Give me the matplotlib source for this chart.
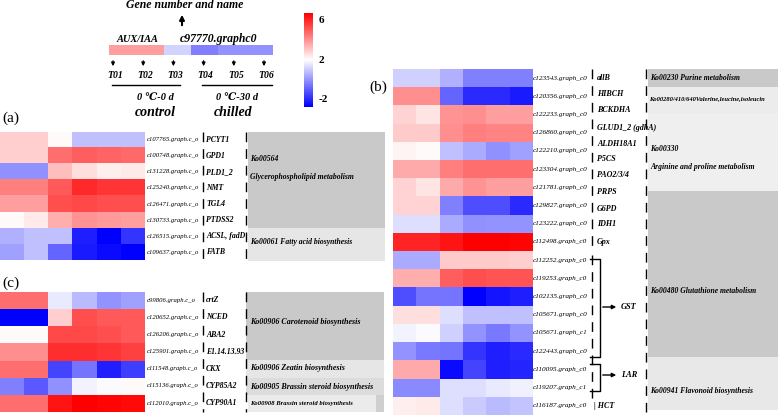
import matplotlib
matplotlib.use("Agg")
import matplotlib.pyplot as plt
import numpy as np
from matplotlib.colors import LinearSegmentedColormap, Normalize

W, H = 778, 417
FONT = ["Liberation Serif", "DejaVu Serif"]

# ---------------- data ----------------
timepoints = ["T01", "T02", "T03", "T04", "T05", "T06"]
legend_vals = [3.8, 3.8, 1.2, -0.4, 0.0, 0.0]

a_ids = ["c107765.graph.c_o", "c100748.graph.c_o", "c131228.graph.c_o", "c125240.graph.c_o",
         "c126471.graph.c_o", "c130733.graph.c_o", "c126515.graph.c_o", "c109637.graph.c_o"]
a_genes = ["PCYT1", "GPD1", "PLD1_2", "NMT", "TGL4", "PTDSS2", "ACSL, fadD", "FATB"]
a_vals = [
    [2.9, 2.9, 2.1, 0.8, 0.8, 0.8],
    [2.9, 2.9, 4.7, 5.0, 4.9, 4.8],
    [-0.1, -0.1, 3.2, 2.6, 2.3, 2.4],
    [4.4, 4.4, 5.1, 6.0, 5.8, 5.8],
    [3.8, 3.8, 5.3, 5.4, 5.3, 5.3],
    [2.1, 2.4, 3.5, 4.0, 3.9, 3.8],
    [0.5, 0.8, 0.8, -2.2, -2.8, -1.8],
    [0.2, 0.8, -0.9, -2.3, -2.6, -2.8],
]
a_paths = ["Ko00564\n\nGlycerophospholipid metabolism", "Ko00061 Fatty acid biosynthesis"]

c_ids = ["c99806.graph.c_o", "c120652.graph.c_o", "c126206.graph.c_o", "c125901.graph.c_o",
         "c111548.graph.c_o", "c115136.graph.c_o", "c112010.graph.c_o"]
c_genes = ["crtZ", "NCED", "ABA2", "E1.14.13.93", "CKX", "CYP85A2", "CYP90A1"]
c_vals = [
    [4.7, 4.7, 1.6, 0.7, 0.0, 0.2],
    [-2.8, -2.8, 2.9, 5.3, 5.1, 5.1],
    [2.1, 2.1, 5.4, 5.4, 5.3, 5.1],
    [4.1, 4.1, 5.9, 5.9, 5.8, 5.6],
    [4.7, 4.7, -1.5, -0.6, -2.2, -1.6],
    [-0.4, -1.1, -0.1, 1.8, 1.9, 2.1],
    [4.7, 4.7, 6.4, 6.8, 6.7, 6.6],
]
c_paths = ["Ko00906 Carotenoid biosynthesis", "Ko00906 Zeatin biosynthesis",
           "Ko00905 Brassin steroid biosynthesis", "Ko00908 Brassin steroid biosynthesis"]

b_ids = ["c123543.graph_c0", "c120356.graph_c0", "c122233.graph_c0", "c126860.graph_c0",
         "c122210.graph_c0", "c123304.graph_c0", "c121781.graph_c0", "c129827.graph_c0",
         "c123222.graph_c0", "c112498.graph_c0", "c112252.graph_c0", "c119253.graph_c0",
         "c102135.graph_c0", "c105671.graph_c0", "c105671.graph_c1", "c122443.graph_c0",
         "c110095.graph_c0", "c119207.graph_c1", "c116187.graph_c0"]
b_genes = ["allB", "HIBCH", "BCKDHA", "GLUD1_2 (gdhA)", "ALDH18A1", "P5CS", "PAO2/3/4",
           "PRPS", "G6PD", "IDH1", "Gpx"]
b_vals = [
    [1.1, 1.1, 0.5, -0.4, -0.4, -0.4],
    [4.1, 4.1, -0.9, -2.0, -2.0, -2.3],
    [2.8, 2.5, 4.0, 4.1, 3.8, 3.8],
    [3.0, 3.0, 4.1, 4.4, 4.3, 4.3],
    [2.2, 2.1, 0.8, 0.4, -0.1, 0.2],
    [3.6, 3.6, 4.4, 4.7, 4.7, 4.7],
    [2.8, 2.5, 3.6, 4.0, 3.8, 3.8],
    [2.8, 2.8, -0.4, -1.3, -1.3, -2.0],
    [1.4, 1.4, 0.4, -0.1, 0.0, 0.0],
    [6.1, 6.1, 6.4, 6.8, 6.8, 6.7],
    [0.4, 0.4, 3.0, 3.0, 3.0, 2.9],
    [3.5, 3.5, 5.0, 5.3, 5.2, 5.2],
    [-1.3, -0.6, -0.6, -2.8, -2.4, -2.2],
    [2.6, 2.6, 1.4, 0.8, 0.8, 0.8],
    [1.8, 1.9, 1.1, 0.0, -0.5, 0.0],
    [0.0, -0.5, -0.6, -1.8, -2.2, -2.0],
    [3.6, 3.6, -2.6, -1.5, -2.2, -2.1],
    [-0.2, -0.2, 1.4, 1.4, 1.6, 1.7],
    [2.3, 2.4, 1.4, 1.0, 0.7, 0.9],
]
b_paths = ["Ko00230 Purine metabolism", "Ko00280/410/640Valerine,leucine,isoleucin",
           "Ko00330\n\nArginine and proline metabolism", "Ko00480 Glutathione metabolism",
           "Ko00941 Flavonoid biosynthesis"]

# ---------------- drawing ----------------
cmap = LinearSegmentedColormap.from_list("bwr2", ["#0000ff", "#ffffff", "#ff0000"])
norm = Normalize(vmin=-2.8, vmax=6.8)

fig = plt.figure(figsize=(W / 100, H / 100), dpi=100)
base = fig.add_axes([0, 0, 1, 1])
base.set_xlim(0, W)
base.set_ylim(H, 0)
base.axis("off")


def px_axes(x0, y0, x1, y1):
    ax = fig.add_axes([x0 / W, 1 - y1 / H, (x1 - x0) / W, (y1 - y0) / H])
    ax.axis("off")
    return ax


def heat(vals, x0, y0, x1, y1):
    ax = px_axes(x0, y0, x1, y1)
    ax.imshow(np.array(vals), cmap=cmap, norm=norm, aspect="auto", interpolation="nearest")
    return [y0 + (i + 0.5) * (y1 - y0) / len(vals) for i in range(len(vals))]


def txt(x, y, s, size=6, bold=True, italic=True, **kw):
    base.text(x, y, s, fontsize=size, family=FONT, fontweight="bold" if bold else "normal",
              fontstyle="italic" if italic else "normal", va="center", **kw)


def dashed(x, y0, y1):
    base.plot([x, x], [y0, y1], color="black", lw=1.0, ls=(0, (7, 5)))


def box(x0, y0, x1, y1, color):
    base.fill_between([x0, x1], y0, y1, color=color, lw=0)


# top legend
txt(185, 5, "Gene number and name", size=8.5, ha="center")
base.annotate("", xy=(182, 12), xytext=(182, 28),
              arrowprops=dict(arrowstyle="-|>", color="black", lw=1.5, mutation_scale=7))
lg = px_axes(109, 45, 273, 55)
lg.imshow(np.array([legend_vals]), cmap=cmap, norm=norm, aspect="auto")
txt(117, 39, "AUX/IAA", size=7.5, ha="left")
txt(180, 39, "c97770.graphc0", size=8.5, ha="left")
for i, t in enumerate(timepoints):
    xc = 113 + i * 30.2
    base.annotate("", xy=(xc, 69), xytext=(xc, 58),
                  arrowprops=dict(arrowstyle="-|>", color="black", lw=0.9, mutation_scale=5))
    txt(xc + 2, 75, t, size=7, ha="center")
base.plot([112, 180], [85, 85], color="black", lw=1)
base.plot([202, 272], [85, 85], color="black", lw=1)
txt(155, 97, "0 \u2103-0 d", size=7.5, ha="center")
txt(237, 97, "0 \u2103-30 d", size=7.5, ha="center")
txt(155, 112, "control", size=10, ha="center")
txt(233, 112, "chilled", size=10, ha="center")

# colorbar
cb = px_axes(304, 13, 313, 107)
cb.imshow(np.linspace(norm.vmax, norm.vmin, 200)[:, None], cmap=cmap, norm=norm, aspect="auto")
for v in [6, 2, -2]:
    yv = 13 + (norm.vmax - v) / (norm.vmax - norm.vmin) * 94
    txt(319, yv, str(v), size=8, italic=False, ha="left")

# panel labels
txt(2, 118, "(a)", size=11, bold=False, italic=False, ha="left")
txt(2, 283, "(c)", size=11, bold=False, italic=False, ha="left")
txt(369, 87, "(b)", size=11, bold=False, italic=False, ha="left")

# panel (a)
ya = heat(a_vals, 0, 131.5, 145, 260.5)
for y, gid, g in zip(ya, a_ids, a_genes):
    txt(147, y, gid, size=4.8, bold=False, ha="left")
    txt(206, y, g, size=5.6, ha="left")
dashed(203, 132, 261)
dashed(246, 132, 261)
box(248, 132, 385, 228, "#c9c9c9")
box(248, 228, 385, 261, "#e6e6e6")
txt(250, 168, a_paths[0], size=5.5, ha="left", linespacing=1.1)
txt(250, 242, a_paths[1], size=5.5, ha="left")

# panel (c)
yc = heat(c_vals, 0, 291.7, 145, 411.7)
for y, gid, g in zip(yc, c_ids, c_genes):
    txt(147, y, gid, size=4.8, bold=False, ha="left")
    txt(206, y, g, size=5.6, ha="left")
dashed(203, 292, 412)
dashed(246, 292, 412)
box(246, 292, 384, 360, "#c9c9c9")
box(246, 360, 384, 378, "#e6e6e6")
box(246, 378, 384, 395, "#dcdcdc")
box(376, 395, 384, 412, "#cfcfcf")
box(248, 395, 376, 412, "#ebebeb")
txt(250, 322, c_paths[0], size=5.8, ha="left")
txt(250, 368, c_paths[1], size=5.8, ha="left")
txt(250, 387, c_paths[2], size=5.8, ha="left")
txt(250, 403, c_paths[3], size=4.8, ha="left")

# panel (b)
yb = heat(b_vals, 393, 69, 532, 414.8)
for y, gid in zip(yb, b_ids):
    txt(533, y, gid, size=5.2, bold=False, ha="left")
name_y = [78, 94, 110, 128, 144, 159, 175, 192, 209, 224, 242]
for y, g in zip(name_y, b_genes):
    txt(597, y, g, size=5.8, ha="left")
dashed(592, 69, 248)
dashed(592, 255, 400)
dashed(646, 69, 412)
txt(594, 406, "| HCT", size=5.8, ha="left")
box(648, 69, W, 87, "#c9c9c9")
box(648, 87, W, 113, "#ececec")
box(648, 113, W, 191, "#efefef")
box(648, 191, W, 357, "#c9c9c9")
box(648, 357, W, 410, "#e8e8e8")
txt(650, 78, b_paths[0], size=5.5, ha="left")
txt(649, 99, b_paths[1], size=4.7, ha="left")
txt(650, 158, b_paths[2], size=5.5, ha="left", linespacing=1.1)
txt(650, 291, b_paths[3], size=5.5, ha="left")
txt(650, 391, b_paths[4], size=5.5, ha="left")

# GST / LAR brackets
base.plot([590, 600, 600, 590], [259, 259, 357, 357], color="black", lw=1)
base.annotate("", xy=(619, 307), xytext=(600, 307),
              arrowprops=dict(arrowstyle="-|>", color="black", lw=1, mutation_scale=6))
txt(621, 307, "GST", size=6, ha="left")
base.plot([590, 600, 600, 590], [364, 364, 391, 391], color="black", lw=1)
base.annotate("", xy=(619, 375), xytext=(600, 375),
              arrowprops=dict(arrowstyle="-|>", color="black", lw=1, mutation_scale=6))
txt(621, 375, "LAR", size=6, ha="left")

plt.savefig("out.png", dpi=100)
